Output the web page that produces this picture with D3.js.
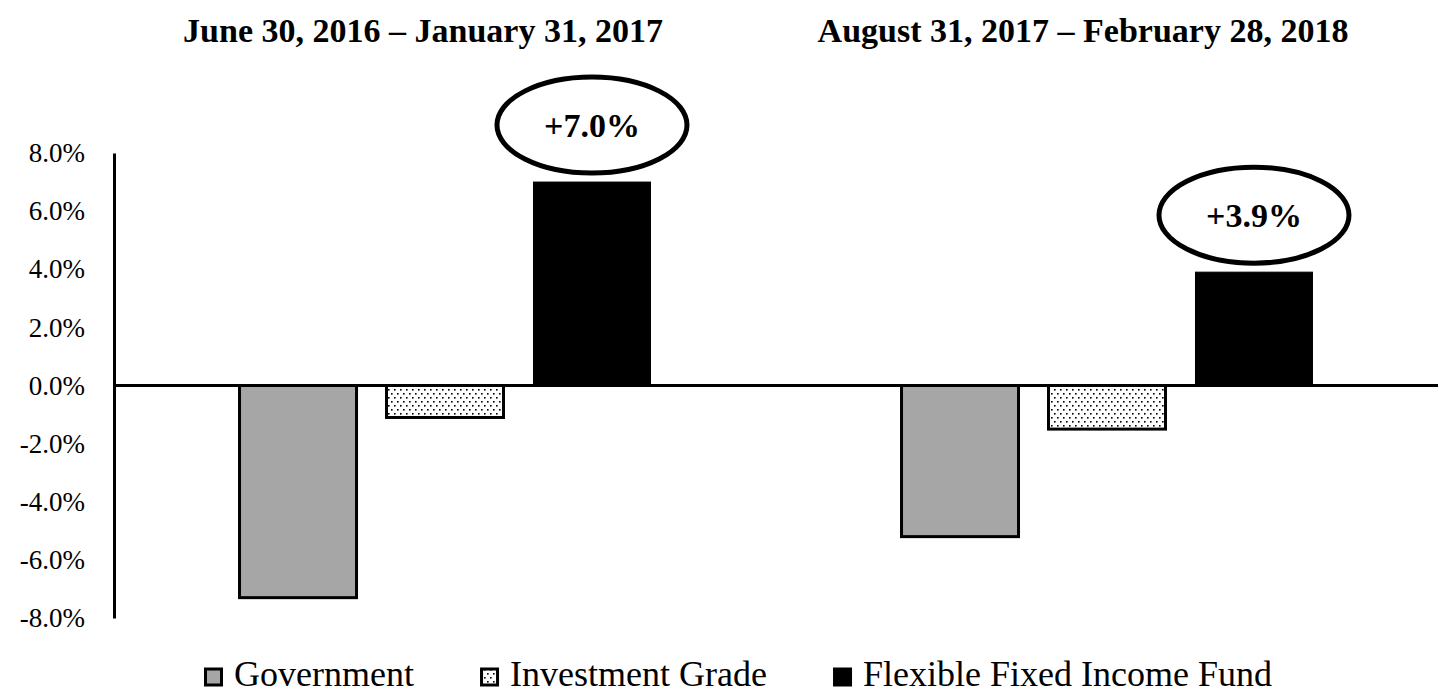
<!DOCTYPE html>
<html>
<head>
<meta charset="utf-8">
<script src="https://cdn.jsdelivr.net/npm/d3@7"></script>
<style>
  html, body { margin: 0; padding: 0; background: #fff; }
  svg { display: block; }
</style>
</head>
<body>
<svg id="chart" width="1439" height="693"></svg>
<script>
// ---- data ----
const periods = ["June 30, 2016 \u2013 January 31, 2017", "August 31, 2017 \u2013 February 28, 2018"];
const seriesNames = ["Government", "Investment Grade", "Flexible Fixed Income Fund"];
const government = [-7.3, -5.2];
const investmentGrade = [-1.1, -1.5];
const flexibleFund = [7.0, 3.9];
const yTickValues = [-8, -6, -4, -2, 0, 2, 4, 6, 8];

// ---- build rows ----
const seriesValues = [government, investmentGrade, flexibleFund];
const rows = [];
periods.forEach((p, i) => {
  seriesNames.forEach((s, j) => rows.push({ period: p, series: s, value: seriesValues[j][i] }));
});

const SERIF = '"Liberation Serif", "Times New Roman", serif';
const fmt = d3.formatLocale({ decimal: ".", thousands: ",", grouping: [3], currency: ["", ""], minus: "-" }).format(".1f");

const svg = d3.select("#chart");

// pattern for investment grade
const defs = svg.append("defs");
const pat = defs.append("pattern").attr("id", "dots").attr("patternUnits", "userSpaceOnUse")
  .attr("width", 6).attr("height", 8);
pat.append("rect").attr("width", 6).attr("height", 8).attr("fill", "#fff");
pat.append("rect").attr("x", 1).attr("y", 1).attr("width", 1.6).attr("height", 1.6).attr("fill", "#000");
pat.append("rect").attr("x", 4).attr("y", 5).attr("width", 1.6).attr("height", 1.6).attr("fill", "#000");

const fills = { "Government": "#a6a6a6", "Investment Grade": "url(#dots)", "Flexible Fixed Income Fund": "#000" };

const x0 = d3.scaleBand().domain(periods).range([114, 1438]).padding(0);
const x1 = d3.scaleBand().domain(seriesNames).range([0, x0.bandwidth()])
  .paddingInner(0.204).paddingOuter(0.854);
const y = d3.scaleLinear().domain([-8, 8]).range([618, 153]);

// titles
svg.append("g").selectAll("text").data(periods).join("text")
  .attr("x", (d, i) => i === 0 ? 423 : 1083)
  .attr("y", 42)
  .attr("text-anchor", "middle")
  .style("font-family", SERIF)
  .style("font-size", "34px")
  .style("font-weight", "bold")
  .attr("fill", "#000")
  .text(d => d);

// y axis
const yAxis = d3.axisLeft(y).tickValues(yTickValues).tickSize(0).tickPadding(29)
  .tickFormat(d => fmt(d) + "%");
const gy = svg.append("g").attr("transform", "translate(114,0)").call(yAxis);
gy.attr("font-family", null).attr("font-size", null);
gy.select(".domain").attr("stroke", "#000").attr("stroke-width", 3);
gy.selectAll("text")
  .style("font-family", SERIF).style("font-size", "27px").attr("fill", "#000");

// bars
svg.append("g").selectAll("rect").data(rows).join("rect")
  .attr("x", d => x0(d.period) + x1(d.series))
  .attr("width", x1.bandwidth())
  .attr("y", d => y(Math.max(0, d.value)))
  .attr("height", d => Math.abs(y(d.value) - y(0)))
  .attr("fill", d => fills[d.series])
  .attr("stroke", "#000")
  .attr("stroke-width", d => d.series === "Flexible Fixed Income Fund" ? 1 : 3);

// zero line
svg.append("line")
  .attr("x1", 114).attr("x2", 1438)
  .attr("y1", y(0)).attr("y2", y(0))
  .attr("stroke", "#000").attr("stroke-width", 3);

// callout ellipses for fund
const fundRows = rows.filter(d => d.series === "Flexible Fixed Income Fund");
const callouts = svg.append("g").selectAll("g").data(fundRows).join("g")
  .attr("transform", d => `translate(${x0(d.period) + x1(d.series) + x1.bandwidth() / 2}, ${y(d.value) - 57})`);
callouts.append("ellipse").attr("rx", 95).attr("ry", 48)
  .attr("fill", "#fff").attr("stroke", "#000").attr("stroke-width", 5);
callouts.append("text").attr("text-anchor", "middle").attr("dy", "0.35em")
  .style("font-family", SERIF).style("font-size", "34px").style("font-weight", "bold")
  .attr("fill", "#000")
  .text(d => "+" + fmt(d.value) + "%");

// legend
const lg = svg.append("g");
const items = lg.selectAll("g").data(seriesNames).join("g");
items.append("rect").attr("x", 1.5).attr("width", 16).attr("height", 16).attr("y", 669)
  .attr("fill", d => fills[d]).attr("stroke", "#000").attr("stroke-width", 3);
items.append("text").attr("x", 30).attr("y", 686)
  .style("font-family", SERIF).style("font-size", "36px").attr("fill", "#000")
  .text(d => d);
const widths = [];
items.each(function () { widths.push(d3.select(this).select("text").node().getComputedTextLength()); });
const legStart = 204, legEnd = 1272;
const used = widths.reduce((a, w) => a + 30 + w, 0);
const gap = Math.max(30, (legEnd - legStart - used) / (widths.length - 1));
let start = legStart;
items.attr("transform", (d, i) => {
  const t = `translate(${start},0)`;
  start += 30 + widths[i] + gap;
  return t;
});
</script>
</body>
</html>
